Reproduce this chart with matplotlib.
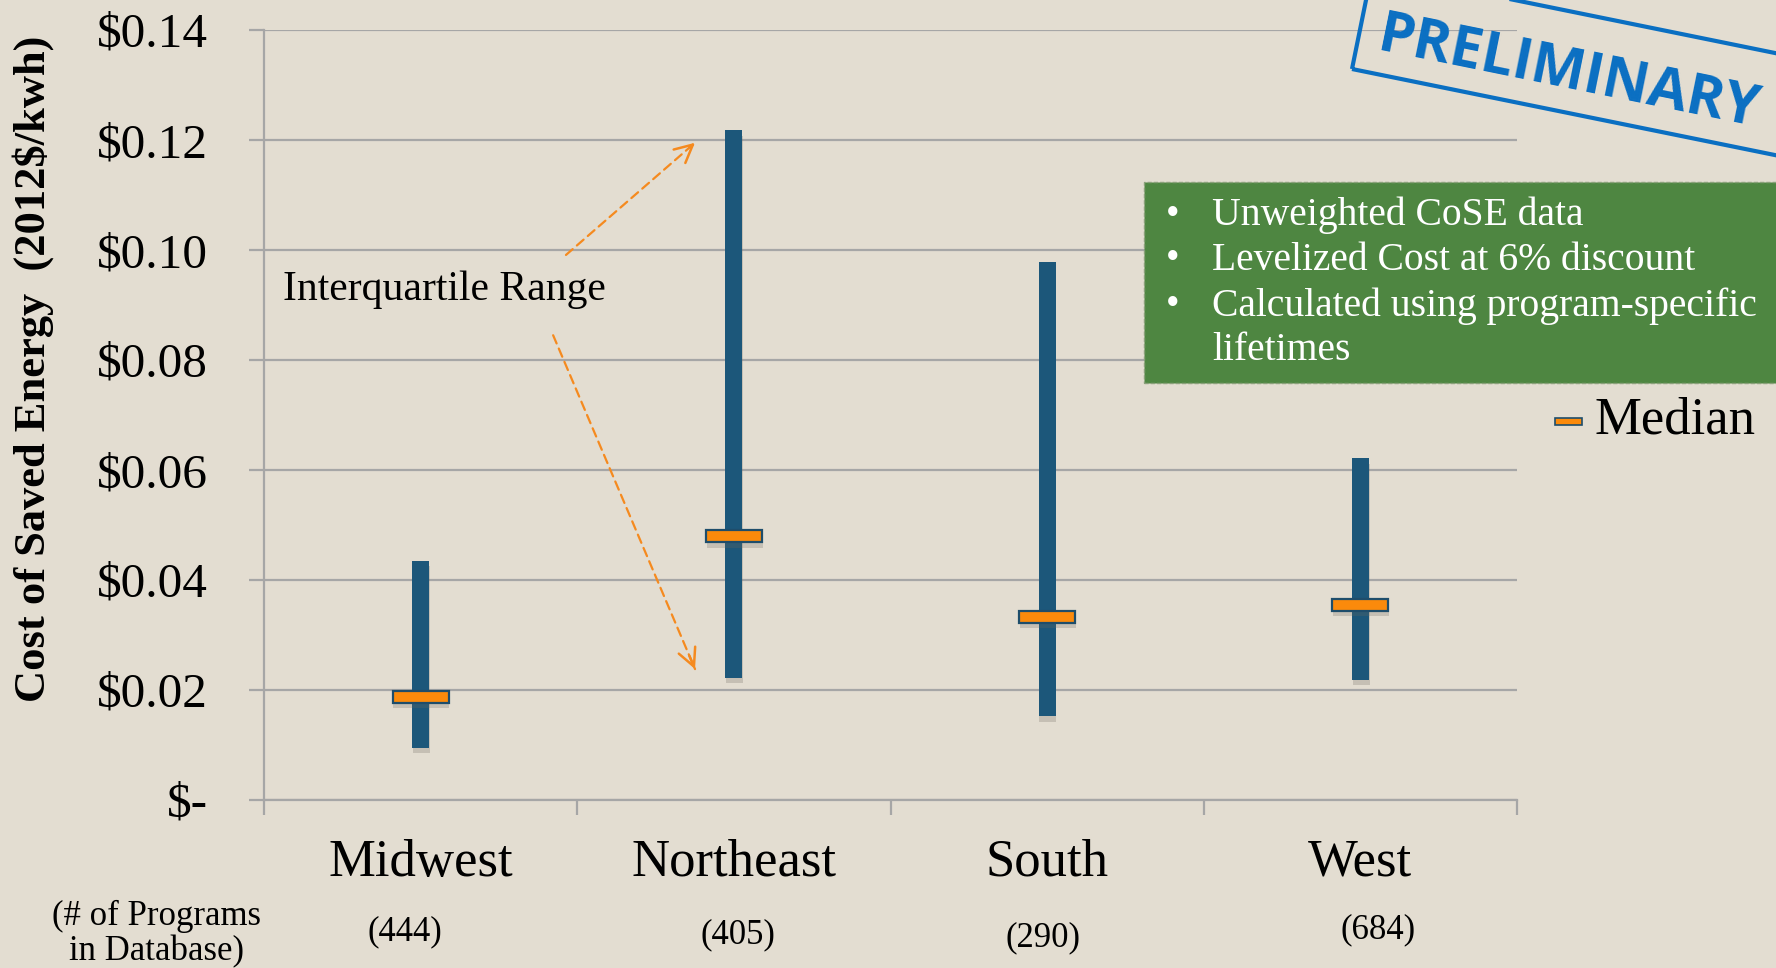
import matplotlib
matplotlib.use("Agg")
import matplotlib.pyplot as plt
from matplotlib.patches import Rectangle
from matplotlib.transforms import IdentityTransform
import matplotlib.patheffects as pe

# ---- data -------------------------------------------------------------
regions = ["Midwest", "Northeast", "South", "West"]
program_counts = ["(444)", "(405)", "(290)", "(684)"]
q1 = [0.0095, 0.0222, 0.0152, 0.0219]        # lower quartile, $/kWh
q3 = [0.0435, 0.1218, 0.0979, 0.0621]        # upper quartile, $/kWh
median = [0.0188, 0.0480, 0.0333, 0.0355]    # median, $/kWh
ytick_values = [0.0, 0.02, 0.04, 0.06, 0.08, 0.10, 0.12, 0.14]
ytick_labels = ["$-", "$0.02", "$0.04", "$0.06", "$0.08", "$0.10", "$0.12", "$0.14"]
notes = ["Unweighted CoSE data",
         "Levelized Cost at 6% discount",
         "Calculated using program-specific\nlifetimes"]

# ---- style ------------------------------------------------------------
BG = "#E3DDD1"
BAR = "#1C577A"
ORANGE = "#FB8A0B"
EDGE = "#1E4D6B"
GRID = "#A6A6A6"
GREEN = "#4E8641"
STAMP = "#0A6FC2"

plt.rcParams["font.family"] = ["Liberation Serif", "DejaVu Serif"]

W, H = 1776, 968
fig = plt.figure(figsize=(W / 100, H / 100), dpi=100, facecolor=BG)

# axes box in pixels: x 264..1517, y(top-down) 30..800
ax = fig.add_axes([264 / W, (H - 800) / H, 1253 / W, 770 / H])
ax.set_facecolor(BG)
ax.set_xlim(-0.5, 3.5)
ax.set_ylim(0, 0.14)

for s in ["top", "right"]:
    ax.spines[s].set_visible(False)
for s in ["left", "bottom"]:
    ax.spines[s].set_color(GRID)
    ax.spines[s].set_linewidth(1.6)

ax.set_yticks(ytick_values, ytick_labels)
ax.set_xticks([-0.5, 0.5, 1.5, 2.5, 3.5], [""] * 5)
ax.tick_params(axis="both", colors=GRID, width=1.6, length=10.5)
ax.tick_params(axis="y", labelcolor="black", labelsize=35.5, pad=30)
ax.yaxis.grid(True, color=GRID, linewidth=1.6, zorder=0)
ax.set_axisbelow(True)

shadow = [pe.SimplePatchShadow(offset=(0.5, -4), shadow_rgbFace="#6f695e", alpha=0.25),
          pe.Normal()]

xpos = list(range(len(regions)))
heights = [hi - lo for lo, hi in zip(q1, q3)]
ax.bar(xpos, heights, bottom=q1, width=0.054, color=BAR, zorder=3,
       path_effects=shadow)
med_h = 0.0022
ax.bar(xpos, [med_h] * len(median), bottom=[m - med_h / 2 for m in median],
       width=0.179, color=ORANGE, edgecolor=EDGE, linewidth=1.6, zorder=4,
       path_effects=shadow)

# region names and program counts under the axis
xt = ax.get_xaxis_transform()
for x, name in zip(xpos, regions):
    ax.text(x, (800 - 876) / 770, name, transform=xt, ha="center",
            va="baseline", fontsize=38, clip_on=False)
count_x = [-0.05, 1.013, 1.987, 3.056]
count_base = [940, 943, 946, 938]
for x, yb, lab in zip(count_x, count_base, program_counts):
    ax.text(x, (800 - yb) / 770, lab, transform=xt, ha="center",
            va="baseline", fontsize=25, clip_on=False)
fig.text(156 / W, (H - 925) / H, "(# of Programs", ha="center",
         va="baseline", fontsize=25)
fig.text(156 / W, (H - 960) / H, "in Database)", ha="center",
         va="baseline", fontsize=25)

# y-axis title
fig.text(33 / W, (H - 369) / H, "Cost of Saved Energy  (2012$/kwh)",
         rotation=90, ha="center", va="center", fontsize=32,
         fontweight="bold")

# interquartile range callout
ax.text(-0.439, 0.0928, "Interquartile Range", ha="left", va="center",
        fontsize=30)
arrow_c = "#F58A1F"
for (x0, y0), (x1, y1) in [((0.464, 0.0991), (0.876, 0.1195)),
                           ((0.423, 0.0845), (0.876, 0.0238))]:
    ax.annotate("", xy=(x1, y1), xytext=(x0, y0),
                arrowprops=dict(arrowstyle="-", color=arrow_c, lw=1.6,
                                linestyle=(0, (4, 2.5)),
                                shrinkA=0, shrinkB=0), zorder=5)
    xm, ym = x0 + (x1 - x0) * 0.96, y0 + (y1 - y0) * 0.96
    ax.annotate("", xy=(x1, y1), xytext=(xm, ym),
                arrowprops=dict(arrowstyle="->", color=arrow_c, lw=1.8,
                                mutation_scale=32, shrinkA=0, shrinkB=0),
                zorder=5)

# green notes box
idt = IdentityTransform()
fig.add_artist(Rectangle((1144, H - 383), 700, 201, transform=idt,
                         facecolor=GREEN, edgecolor="#8aa07a",
                         linewidth=1.0, linestyle=(0, (3, 1.5)), zorder=5))
line_y = [215, 260, 306]
for yl, note in zip(line_y, notes):
    fig.text(1166 / W, (H - yl) / H, "\u2022", ha="left", va="center",
             fontsize=28, color="white", zorder=6)
    first, *rest = note.split("\n")
    fig.text(1212 / W, (H - yl) / H, first, ha="left", va="center",
             fontsize=28.5, color="white", zorder=6)
    for k, extra in enumerate(rest, start=1):
        fig.text(1212 / W, (H - yl - 45 * k) / H, extra, ha="left",
                 va="center", fontsize=28.5, color="white", zorder=6)

# median legend entry
fig.add_artist(Rectangle((1555, H - 425), 27, 7, transform=idt,
                         facecolor=ORANGE, edgecolor=EDGE, linewidth=1.2))
fig.text(1594 / W, (H - 421) / H, "Median", ha="left", va="center",
         fontsize=38)

# preliminary stamp
ang = -11.5
fig.add_artist(Rectangle((1352, H - 69), 700, 100, angle=ang,
                         rotation_point="xy", transform=idt,
                         facecolor="none", edgecolor=STAMP, linewidth=3.0))
fig.text(1379 / W, 933 / H, "PRELIMINARY", rotation=ang,
         rotation_mode="anchor", ha="left", va="center", fontsize=41,
         fontweight="bold", family="Open Sans", color=STAMP)

fig.savefig("out.png", dpi=100, facecolor=BG)
